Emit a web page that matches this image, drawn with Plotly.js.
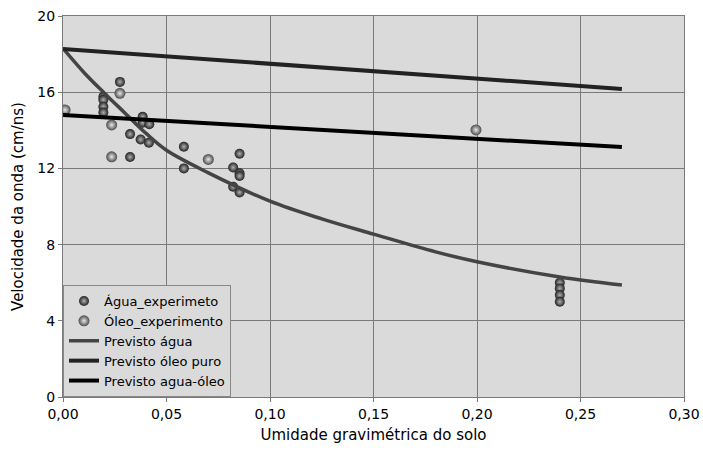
<!DOCTYPE html>
<html>
<head>
<meta charset="utf-8">
<script src="https://cdn.plot.ly/plotly-3.0.1.min.js"></script>
<style>html,body{margin:0;padding:0;background:#fff;}#chart{width:703px;height:453px;}</style>
</head>
<body>
<div id="chart"></div>
<script>
// Experimental points
const aguaX = [0.0195, 0.0195, 0.0195, 0.0195, 0.0275, 0.0324, 0.0324, 0.0385, 0.0385, 0.0417, 0.0375, 0.0415, 0.0584, 0.0584, 0.0853, 0.0822, 0.0853, 0.0853, 0.0822, 0.0853, 0.24, 0.24, 0.24, 0.24];
const aguaY = [15.76, 15.6, 15.24, 14.93, 16.54, 13.8, 12.6, 14.71, 14.4, 14.32, 13.52, 13.35, 13.14, 12.0, 12.77, 12.05, 11.74, 11.6, 11.04, 10.74, 6.0, 5.7, 5.35, 5.0];
const oleoX = [0.001, 0.0235, 0.0235, 0.0275, 0.0702, 0.1995];
const oleoY = [15.07, 14.28, 12.61, 15.94, 12.47, 14.02];
// Predicted curves
const prevAguaX = [0, 0.01, 0.02, 0.03, 0.04, 0.05, 0.07, 0.1, 0.125, 0.15, 0.18, 0.2, 0.24, 0.27];
const prevAguaY = [18.3, 17.05, 15.95, 14.9, 13.85, 12.95, 11.78, 10.28, 9.35, 8.55, 7.62, 7.1, 6.3, 5.88];
const prevOleoX = [0, 0.27];
const prevOleoY = [18.27, 16.17];
const prevMixX = [0, 0.27];
const prevMixY = [14.8, 13.12];
const xTicks = [0, 0.05, 0.1, 0.15, 0.2, 0.25, 0.3];
const yTicks = [0, 4, 8, 12, 16, 20];

const font = 'DejaVu Sans, Verdana, sans-serif';
const traces = [
  {x: aguaX, y: aguaY, name: 'Água_experimeto', type: 'scatter', mode: 'markers',
   marker: {size: 10, color: '#222222', gradient: {type: 'radial', color: '#b0b0b0'}, line: {width: 0}}},
  {x: oleoX, y: oleoY, name: 'Óleo_experimento', type: 'scatter', mode: 'markers',
   marker: {size: 11, color: '#4a4a4a', gradient: {type: 'radial', color: '#e8e8e8'}, line: {width: 0}}},
  {x: prevAguaX, y: prevAguaY, name: 'Previsto água', type: 'scatter', mode: 'lines',
   line: {color: '#444444', width: 3.5, shape: 'spline', smoothing: 1}},
  {x: prevOleoX, y: prevOleoY, name: 'Previsto óleo puro', type: 'scatter', mode: 'lines',
   line: {color: '#222222', width: 4}},
  {x: prevMixX, y: prevMixY, name: 'Previsto agua-óleo', type: 'scatter', mode: 'lines',
   line: {color: '#000000', width: 4}}
];
const layout = {
  width: 703, height: 453,
  margin: {l: 63, r: 19, t: 16, b: 56},
  paper_bgcolor: '#ffffff', plot_bgcolor: '#dadada',
  separators: ',.',
  font: {family: font, size: 14, color: '#000'},
  showlegend: true,
  legend: {x: 0, y: 0, xanchor: 'left', yanchor: 'bottom', bgcolor: '#dadada',
           bordercolor: '#888', borderwidth: 1, font: {family: font, size: 13}, tracegroupgap: 0},
  xaxis: {range: [0, 0.3], tickvals: xTicks, tickformat: '.2f', showgrid: true, gridcolor: '#7a7a7a', gridwidth: 1,
          showline: true, linecolor: '#7a7a7a', mirror: true, ticks: 'outside', ticklen: 4, tickcolor: '#7a7a7a',
          zeroline: false, title: {text: 'Umidade gravimétrica do solo', font: {family: font, size: 15}, standoff: 8},
          tickfont: {family: font, size: 14}},
  yaxis: {range: [0, 20], tickvals: yTicks, showgrid: true, gridcolor: '#7a7a7a', gridwidth: 1,
          showline: true, linecolor: '#7a7a7a', mirror: true, ticks: 'outside', ticklen: 4, tickcolor: '#7a7a7a',
          zeroline: false, title: {text: 'Velocidade da onda (cm/ns)', font: {family: font, size: 15}, standoff: 10},
          tickfont: {family: font, size: 14}}
};
Plotly.newPlot('chart', traces, layout, {displayModeBar: false, staticPlot: true});
</script>
</body>
</html>
